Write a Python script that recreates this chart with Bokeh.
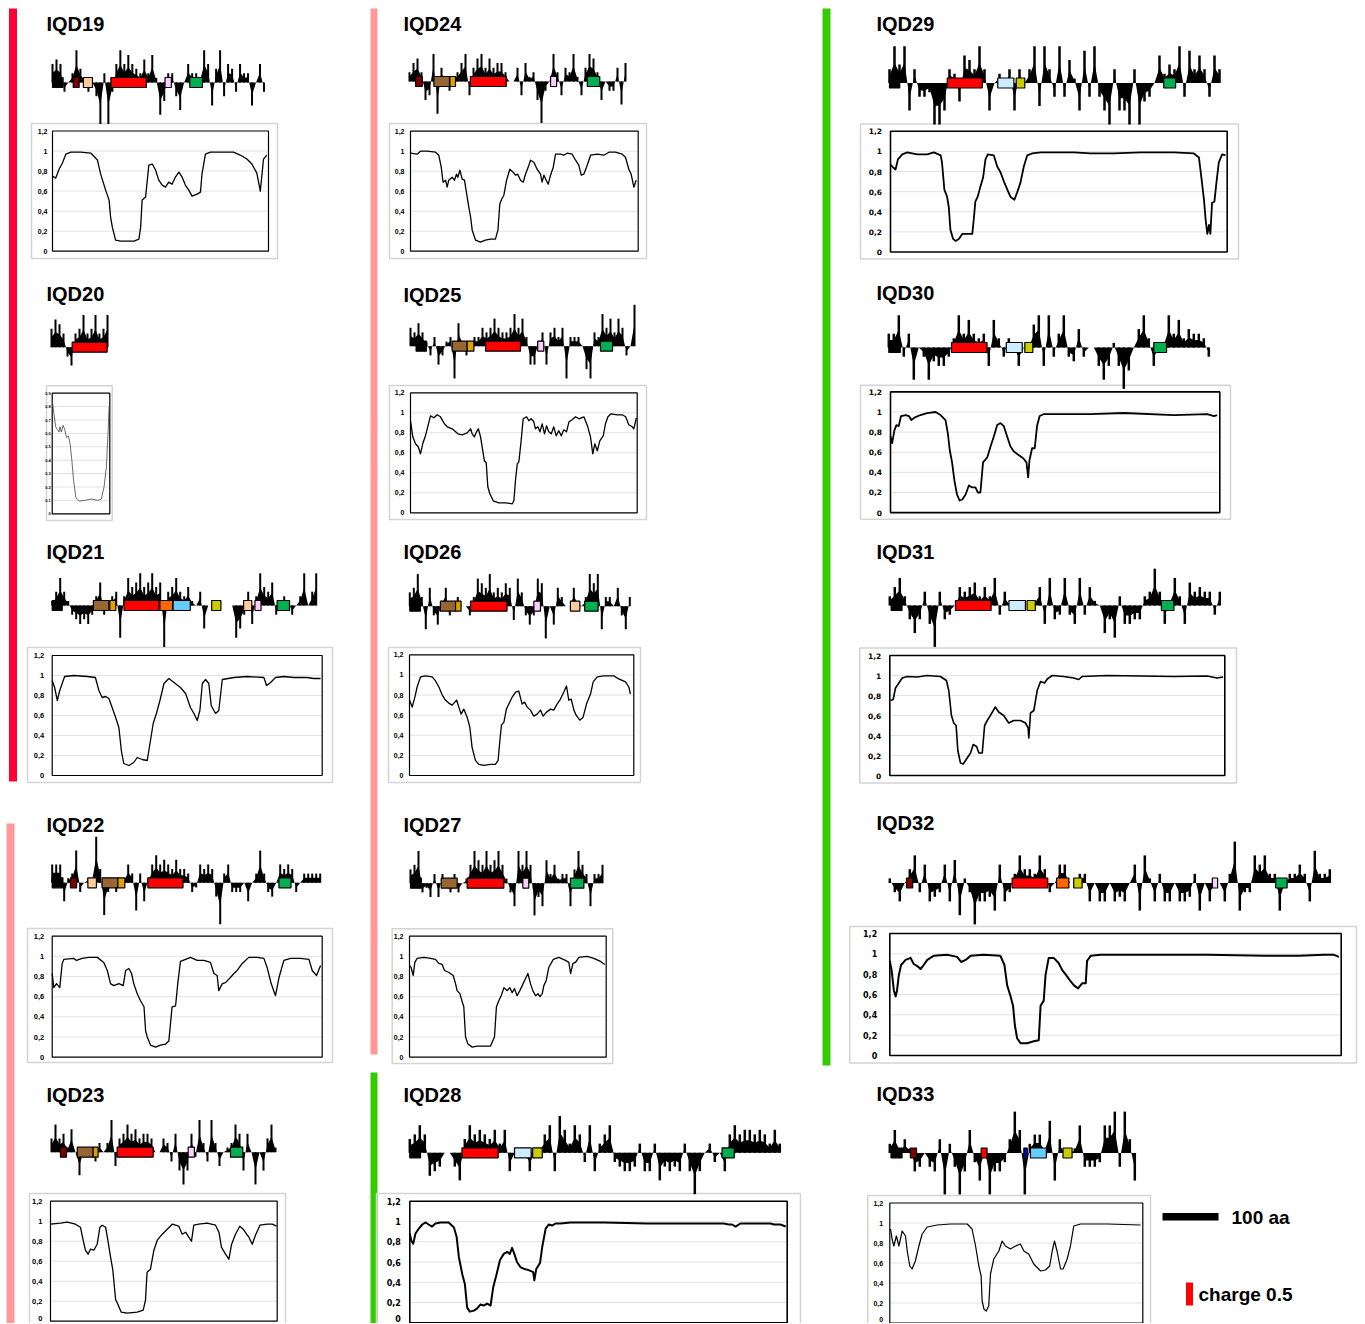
import numpy as np
from bokeh.plotting import figure
from bokeh.models import Range1d
from bokeh.embed import file_html
from bokeh.resources import INLINE
from bokeh.core.properties import value

# ---------------- DATA ----------------
# Net charge profiles, in tenths of a unit charge, sampled evenly along each protein
Q19 = [4,5,4,-2,0,2,7,3,1,-2,0,-3,-9,2,-9,-2,4,7,4,6,4,3,2,5,2,6,1,-7,-4,2,2,-3,-6,0,4,2,2,1,7,4,-5,3,7,-3,4,3,-2,4,2,2,-5,0,4,-2]
Q20 = [4,6,5,3,-2,-4,3,4,7,3,4,7,3,4,7]
Q21 = [1,3,6,3,1,-2,-3,-4,-3,-4,-2,2,5,-2,1,2,3,-7,2,6,4,5,7,4,5,7,4,5,-9,3,4,6,3,2,4,1,0,3,-5,0,0,0,0,0,0,0,-7,-5,-2,3,-4,2,7,4,3,5,-2,1,2,1,-2,0,2,7,0,3,7]
Q22 = [4,4,4,-4,1,2,7,-2,0,1,1,10,3,-7,-2,1,-2,0,1,4,2,-6,2,-4,1,4,6,4,5,4,3,5,3,3,2,-2,-1,4,3,4,3,-3,-9,2,4,-2,-2,-2,0,-4,0,2,7,2,-2,-3,0,4,3,4,3,-2,0,2,2,2,2,2]
Q23 = [3,6,3,4,1,5,0,-5,0,-1,0,-2,2,0,2,7,-3,3,4,6,4,5,3,4,4,3,0,0,3,2,-2,4,-4,-7,-4,4,-1,7,2,-2,7,2,-3,0,1,2,6,4,-4,4,0,-7,0,-4,3,6,1]
Q24 = [2,4,5,2,-4,-3,6,-7,3,1,-2,1,2,4,6,-3,3,5,6,3,5,3,4,4,2,0,0,3,-3,4,1,2,-4,-9,-2,0,6,2,-3,3,2,6,1,-3,3,6,5,2,-4,0,-2,-2,3,-5,4]
Q25 = [4,3,5,3,1,-2,2,-4,-2,1,2,-7,5,1,-2,1,2,2,4,3,4,6,4,3,3,4,7,4,6,2,-4,-4,1,3,-4,3,4,2,4,-7,2,2,2,0,-5,-7,3,2,7,4,6,3,6,4,-2,0,9]
Q26 = [3,4,7,2,-5,4,-2,-4,1,4,-2,1,2,0,0,-2,2,6,5,4,7,3,4,3,5,4,-3,6,3,-2,-4,-2,6,5,-7,0,-4,4,2,0,0,4,1,0,2,7,5,7,-5,2,2,0,4,-2,-5,2]
Q27 = [3,4,7,-2,-1,-3,2,-3,2,0,-2,2,-2,0,1,4,7,5,4,7,4,5,7,4,1,-2,-5,7,4,7,4,-7,-3,-5,5,2,4,1,2,2,-5,3,7,4,2,-5,2,2,4]
Q28 = [3,4,6,4,-5,-4,-3,0,0,-3,-6,3,6,4,5,4,3,5,2,5,-4,0,0,0,-4,0,1,4,6,-4,8,5,2,6,4,-2,6,-4,2,4,6,-2,-3,-4,-4,-3,2,-4,-4,2,-6,-3,-4,-3,-4,2,-4,-9,-4,0,2,-2,0,-4,4,6,4,5,5,4,5,4,2,5,2]
Q29 = [3,8,4,8,-6,3,-3,-3,-2,-9,-9,-6,3,2,-4,6,5,3,8,3,-6,0,2,0,3,-6,3,0,3,8,-5,8,3,-3,8,-3,5,1,-6,7,-3,8,-3,-6,-9,3,-6,-6,-9,3,-9,-4,-3,0,6,2,4,3,8,-3,7,3,6,3,-3,6,3]
Q30 = [3,3,7,-2,3,-7,0,-2,-7,-3,-4,-4,-2,2,7,3,6,3,2,3,-4,6,2,-2,2,0,-4,0,0,5,7,-4,7,-2,3,7,-2,-3,4,-2,0,0,-4,-7,-4,1,-4,-9,-5,0,4,7,2,-4,0,1,7,3,6,2,4,3,3,2,-2]
Q31 = [2,4,6,2,-3,-6,-3,3,-4,-9,3,-3,-2,0,4,3,4,5,2,4,2,6,-2,3,0,0,-1,0,0,1,4,-4,6,-3,-2,6,-2,-4,6,-2,4,1,0,-6,-3,-7,2,-4,-4,-3,-3,2,3,8,3,-4,1,6,2,-4,5,3,4,3,3,-2,3]
Q32 = [1,-2,-4,0,3,6,-2,4,-4,-3,-2,4,-4,5,-7,1,-2,-9,-4,-4,-3,-6,4,-4,-2,2,6,3,3,2,6,3,-2,0,4,4,0,0,2,2,-4,0,-4,-4,0,-4,-3,-4,0,4,-6,6,1,-4,2,-4,-4,0,-4,-4,-3,2,-6,0,-4,0,0,-4,2,9,-6,-2,-2,6,4,6,2,2,-6,0,2,2,4,2,-4,7,2,2,3]
Q33 = [2,5,1,3,1,-4,-3,0,-3,-4,3,-9,2,-3,-9,-4,5,-2,-6,1,-9,-4,-4,-2,3,9,5,-9,2,4,4,1,7,-6,3,0,0,1,6,-3,-3,-3,-2,6,6,9,-3,9,3,-6]

# Domains: (start %, end %, kind) along each protein
D19 = [(0,5,"K"),(9.8,12.6,"DR"),(14.6,18.9,"PE"),(27.6,44.4,"RD"),(53.2,56.2,"PK"),(64.9,70.9,"GR")]
D20 = [(36.9,99.4,"RD")]
D21 = [(0,3.8,"K"),(15.6,21.5,"BR"),(21.8,24.1,"GO"),(27.2,40.5,"RD"),(40.8,45.6,"OR"),(45.8,52.3,"LB"),(60.4,63.9,"OL"),(72.5,75.6,"PE"),(76.8,79.1,"PK"),(85.2,89.9,"GR")]
D22 = [(0,4,"K"),(6.8,9.1,"DR"),(13.3,16.5,"PE"),(18.6,24.5,"BR"),(24.5,27.1,"GO"),(35.7,48.8,"RD"),(84.6,89.1,"GR")]
D23 = [(4,6.7,"DR"),(11.5,18.6,"BR"),(18.6,20.8,"GO"),(29.3,45.4,"RD"),(61,63.8,"PK"),(79.9,85.4,"GR")]
D24 = [(2.8,5.9,"DR"),(11.3,18.5,"BR"),(18.7,21.3,"GO"),(28.2,44.8,"RD"),(65.3,68.1,"PK"),(82.3,88.1,"GR")]
D25 = [(2.5,7.1,"K"),(18.6,25.3,"BR"),(25.3,28.3,"GO"),(33.5,49.1,"RD"),(56.8,59.5,"PK"),(84.8,90.2,"GR")]
D26 = [(0,4.8,"K"),(13.9,20.8,"BR"),(20.8,23.3,"GO"),(27.6,44.2,"RD"),(56.4,59.4,"PK"),(73,77.3,"PE"),(79.5,85.6,"GR")]
D27 = [(0,5.7,"K"),(16,24.3,"BR"),(29.5,48.6,"RD"),(58.5,61.6,"PK"),(83.3,90.3,"GR")]
D28 = [(0,2.9,"K"),(14.1,23.9,"RD"),(28.3,32.8,"PB"),(33.2,35.8,"OL"),(84.4,87.7,"GR")]
D29 = [(0,3.1,"K"),(17.5,28.1,"RD"),(32.8,37.7,"PB"),(38.4,41.0,"OL"),(83.1,86.7,"GR")]
D30 = [(0,3.6,"K"),(19.6,30.7,"RD"),(36.7,41.7,"PB"),(42.5,45,"OL"),(82.8,86.8,"GR")]
D31 = [(0.4,3.7,"K"),(19.9,30.7,"RD"),(36.1,41.1,"PB"),(41.6,44.1,"OL"),(82.3,86.1,"GR")]
D32 = [(3.8,5.2,"DR"),(27.8,35.9,"RD"),(37.9,40.7,"OR"),(41.8,43.7,"OL"),(73.3,74.5,"PK"),(87.7,90.3,"GR")]
D33 = [(0.5,5,"K"),(8.4,10.9,"DR"),(37.3,39.7,"RD"),(54.7,56.1,"BL"),(57.4,63.9,"LB"),(70.7,74.4,"OL")]

# Disorder-type profiles: position (% of sequence) and score
X19 = [0,1.5,3.1,4.6,6.2,8.5,13.1,17.7,20.8,22.3,24.6,26.2,26.9,27.7,29.2,31.5,37.7,40,40.8,41.5,43.1,44.6,46.2,47.7,49.2,50.8,52.3,53.8,55.4,56.9,58.5,60,61.5,63.1,64.6,66.9,68.5,69.2,70.8,73.1,77.7,83.8,86.9,90,92.3,94.6,96.2,97.7,99.2]
Y19 = [.75,.73,.82,.88,.97,.99,.99,.98,.91,.77,.61,.51,.34,.24,.11,.10,.10,.12,.24,.51,.54,.86,.87,.81,.71,.66,.64,.69,.67,.74,.79,.74,.66,.61,.55,.57,.59,.77,.97,.99,.99,.99,.96,.92,.87,.78,.60,.92,.96]
X20 = [0,2.9,5.9,8.8,11.8,13.5,15.9,18.8,21.8,24.7,28.2,31.2,34.1,37.1,41.2,47.1,55.9,67.6,79.4,85.3,90,94.1,97.1,98.8]
Y20 = [.85,.75,.65,.63,.61,.65,.61,.66,.63,.57,.58,.52,.40,.25,.12,.095,.10,.11,.10,.11,.20,.35,.62,.80]
X21 = [0,.9,1.9,2.8,3.7,4.6,8,13,16,17.3,18.5,19.8,21,22.2,23.5,24.7,25.6,26.5,28.4,30.2,31.5,33.3,35.2,36.4,37.4,38.6,39.9,41.4,43.2,45.1,47.5,49.4,51.2,52.5,53.7,54.7,55.6,56.8,58,58.9,60.5,61.7,63,67.3,72.2,78.4,79.4,80.9,82.7,85.8,89.5,94.4,96.9,99.4]
Y21 = [.95,.88,.75,.85,.92,.99,1,.99,.98,.85,.78,.79,.77,.68,.58,.48,.25,.12,.10,.13,.18,.16,.15,.35,.52,.62,.75,.92,.97,.93,.88,.82,.68,.62,.55,.65,.92,.96,.92,.70,.62,.65,.96,.98,.99,.98,.90,.93,.98,.99,.98,.98,.97,.97]
X22 = [0,.6,1.6,2.8,3.7,4.3,8,9,11.1,13.6,16.7,19.1,20.4,21.6,22.8,24.7,26.3,27.2,28.4,29.4,30.2,31.5,32.7,34,34.6,35.2,36.4,38.3,40.1,42,43.2,44.4,45.7,46.5,47.5,49.4,51.2,53.7,56.2,58.6,59.9,61.1,61.7,63,64.2,66,67.3,68.5,70.4,72.8,75.9,78.4,79.6,81.1,82.7,84,85.8,88.3,92,95.1,96.3,97.9,99.4]
Y22 = [.83,.69,.73,.69,.93,.97,.98,.96,.98,.99,.99,.94,.86,.73,.71,.73,.71,.86,.88,.83,.73,.63,.56,.50,.26,.20,.12,.10,.12,.13,.16,.50,.51,.73,.95,.97,.99,.96,.96,.94,.83,.81,.66,.73,.74,.79,.83,.86,.93,.99,.99,.98,.89,.73,.61,.79,.96,.98,.98,.97,.86,.81,.91]
X23 = [0,4.4,7.4,11,13.2,14.4,15.4,16.6,17.6,19.1,20.6,21.8,22.8,24.3,25.3,26.5,27.5,28.7,29.7,31.2,33.8,38.2,40.9,41.9,42.6,44.1,45.6,47.1,49.3,51.5,53.7,56.6,58.1,59.6,61,62.2,63.2,65.4,69.1,72.8,74.3,75.4,77.2,78.7,79.9,81.6,83.5,85,86.5,87.5,89,90.4,92.4,95.6,97.8,99.7]
Y23 = [.97,.98,.99,.97,.94,.81,.71,.67,.72,.71,.77,.94,.96,.94,.81,.64,.51,.22,.17,.09,.08,.09,.11,.21,.49,.52,.71,.81,.87,.92,.97,.95,.87,.89,.84,.80,.96,.97,.98,.96,.89,.74,.67,.62,.77,.87,.95,.92,.87,.84,.77,.86,.96,.97,.97,.95]
X24 = [0,2.9,4.4,7.3,11,12.4,13.5,14.3,15.4,16.1,16.8,18.3,19.3,20.2,20.8,21.7,22.7,23.7,24.9,25.6,26.4,27.1,28.6,30.7,32.9,35.1,37.3,38.4,39.2,40,41,42.2,43.6,45.1,46.1,47.1,48.3,49.5,50.5,52,52.7,54.2,55.6,57.1,57.8,58.6,59.6,60.5,61.5,62.7,63.7,65.9,67.3,68.8,71,72.5,73.9,75,76.1,77.3,79.1,82,84.9,87.1,90,93,94.4,95.9,96.9,98.1,99.1]
Y24 = [.98,.97,1,1,.99,.96,.84,.69,.71,.64,.71,.74,.71,.77,.74,.81,.72,.71,.54,.44,.34,.21,.11,.09,.11,.12,.12,.21,.47,.52,.56,.71,.82,.79,.76,.77,.71,.69,.77,.86,.91,.89,.82,.77,.69,.76,.71,.67,.76,.84,.97,.97,.96,.98,.97,.91,.86,.76,.77,.84,.96,.97,.96,.99,.99,.97,.94,.82,.77,.64,.71]
X25 = [0,1,2.2,3.4,4.4,5.4,6.6,7.6,8.8,10.3,11.8,13.2,15,16.2,18.4,19.9,20.9,22.8,25,26.5,27.2,28.2,29.1,29.9,30.9,31.6,32.6,33.4,34.1,35,36.5,39,41.9,44.9,45.6,46.3,47.1,47.8,48.8,49.7,51.2,52.2,53.2,54.4,55.1,56.2,57.1,58.1,59.1,60,61,62.1,63.2,64.3,65.4,66.5,67.6,68.8,69.9,71.3,72.8,74.3,76.5,78.2,79.4,80.4,81.3,82.4,83.5,85,86,87.1,88.5,91.2,93.4,94.9,96.3,97.8,98.5,99.6]
Y25 = [.92,.76,.69,.66,.59,.69,.77,.86,.97,.95,.98,.96,.89,.86,.84,.81,.79,.78,.80,.84,.79,.76,.81,.84,.76,.66,.52,.50,.26,.19,.12,.10,.10,.09,.12,.32,.49,.51,.72,.94,.96,.92,.94,.91,.84,.86,.81,.89,.79,.87,.81,.79,.86,.77,.82,.77,.83,.81,.91,.93,.96,.94,.96,.86,.76,.59,.69,.62,.72,.77,.89,.96,.99,.98,.98,.96,.88,.86,.84,.95]
X26 = [0,1.2,2.4,3.4,4.9,7.1,10.1,11.6,13.1,14.6,16,17.5,19,21,22,23,24.2,25.7,26.9,27.9,29.4,30.9,33.1,36.1,38.3,39.5,40.3,41,42.1,43.2,44.3,45.8,47.3,48.7,50.2,51.3,52.5,53.9,55.4,56.9,58.4,59.6,61.1,62.9,64.3,65.8,67.3,68.8,70,71,72.1,73.3,74.3,75.9,77.4,78.9,80.7,81.9,83.7,86.6,91.1,93.3,96.3,97.8,98.5]
Y26 = [.75,.68,.78,.88,.98,.99,.98,.94,.88,.80,.75,.72,.70,.75,.68,.61,.66,.58,.48,.28,.15,.11,.10,.11,.11,.15,.35,.50,.53,.66,.71,.78,.83,.84,.71,.73,.68,.65,.59,.61,.65,.59,.63,.66,.65,.71,.76,.83,.89,.75,.76,.65,.60,.55,.58,.71,.81,.93,.98,.99,.99,.96,.93,.88,.81]
X27 = [0,.8,1.9,2.7,3.9,7.3,10.7,13.2,14.9,16.6,17.8,20,22.2,23.4,24.2,25.6,26.8,27.6,28.5,29.7,31.9,34.4,37.8,41.2,43.2,44.2,45.4,46.6,48,49.7,51,52.2,53.4,54.7,56.1,57.3,59,60.2,61.5,62.7,64.1,65.3,66.3,67.5,68.3,69.5,70.8,73.1,75.9,79.3,81,81.9,83.1,84.4,86.1,90.3,93.7,97.1,99.3]
Y27 = [.91,.89,.81,.94,.98,.99,.98,.97,.93,.92,.86,.84,.81,.73,.66,.63,.55,.50,.20,.13,.10,.11,.11,.11,.20,.50,.56,.61,.69,.66,.69,.64,.68,.61,.66,.71,.78,.83,.73,.66,.61,.63,.60,.63,.71,.76,.89,.97,.99,.96,.94,.83,.93,.94,.99,1,.98,.95,.92]
X28 = [0,.4,.9,1.5,2.4,3.3,4.2,5,5.9,6.8,8.1,10.3,11.7,12.4,13,13.9,14.6,15.2,15.9,17,17.8,18.7,19.6,20.5,21.4,22.1,23,23.9,24.9,25.8,26.5,27.1,27.7,28.4,29.3,30.4,31.5,32.7,33,33.5,34.5,35.1,36,36.8,37.7,38.6,39.9,42.6,51.4,62.9,73.5,83.2,84.5,85.4,86.3,87.6,91.2,95.6,96.5,98.2,99.6]
Y28 = [.88,.81,.78,.88,.93,.97,.99,.97,.95,.98,.99,.99,.94,.85,.65,.48,.38,.15,.11,.12,.14,.18,.17,.19,.17,.35,.48,.62,.68,.70,.68,.74,.68,.60,.55,.53,.52,.50,.42,.53,.59,.75,.93,.97,.96,.98,.98,.99,.99,.98,.98,.98,.97,.97,.95,.98,.98,.98,.97,.97,.95]
X29 = [0,.8,1.5,2.2,3.5,5,7.9,10.9,12.9,14.9,15.3,16,16.8,17.3,17.8,18.6,19.3,20.3,21.3,22.3,23.3,24.3,24.8,25.2,25.9,26.7,27.5,28.2,28.9,30.7,31.7,32.7,33.7,34.7,35.6,36.8,37.6,38.6,39.6,40.6,42.1,44.6,54.5,59.4,66.3,74.3,84.2,90.1,91.6,92.3,93.1,93.6,94.1,94.6,95,95.5,96.2,96.8,97.5,98.5,99.5]
Y29 = [.87,.84,.82,.92,.97,.99,.97,.97,.99,.96,.89,.62,.55,.45,.22,.13,.11,.13,.18,.18,.18,.18,.35,.50,.55,.65,.74,.92,.97,.96,.85,.79,.70,.62,.55,.52,.59,.69,.85,.96,.98,.99,.99,.98,.98,.99,.99,.98,.94,.75,.52,.32,.18,.27,.18,.49,.50,.69,.89,.97,.96]
X30 = [0,.5,1.2,1.8,2.5,3.2,4.6,5.6,6.3,7.6,9.1,11.1,13.7,15.2,16.7,17.4,18,18.7,19.4,20.2,21,21.8,22.8,23.8,24.8,25.8,26.5,27.3,28.1,29.4,30.4,31.4,32.4,33.4,34.4,35.4,36.4,37.4,39,40.3,41.3,41.8,42.2,43,43.8,44.5,45.3,46.6,50.6,60.7,70.9,86,96.2,98.2,99.2]
Y30 = [.76,.69,.82,.87,.86,.96,.97,.96,.92,.95,.97,.99,1,.97,.92,.79,.62,.50,.32,.18,.12,.13,.18,.27,.25,.25,.20,.20,.50,.55,.66,.76,.87,.89,.86,.76,.66,.61,.57,.54,.50,.35,.52,.64,.64,.86,.96,.98,.98,.98,.99,.97,.98,.96,.97]
X31 = [.2,1,1.7,2.7,3.7,5.2,8.2,11.1,15.1,16.9,17.6,18.4,19.1,19.8,20.3,21.1,21.9,22.9,24.1,24.9,25.9,26.6,27.6,28.3,29.1,30.2,31.5,32.5,34,35.5,37,39,40.5,41.3,41.5,42,43,44,45,46.2,47,48.5,51.9,54.9,56.4,57.4,64.9,74.8,84.8,94.7,97.7,99.5]
Y31 = [.75,.76,.875,.925,.975,.99,.985,1,.99,.95,.85,.60,.525,.50,.25,.125,.115,.165,.225,.31,.29,.225,.225,.50,.55,.61,.685,.635,.60,.525,.55,.55,.525,.475,.375,.625,.65,.85,.94,.925,.965,1,.99,.975,.96,.99,1,.995,.99,.995,.975,.985]
X32 = [0,.4,.9,1.3,1.6,2,2.5,3.5,4.6,5.3,6.1,6.8,7.5,8.3,9.7,12.7,14.9,15.8,16.8,17.9,20.8,24.5,25.4,26,26.7,27.3,27.7,28.2,29,30.4,31.9,33,33.4,34.1,34.5,35.2,36.3,37.4,38.2,38.9,39.9,40.8,41.7,42.6,43.4,43.7,44.5,46.7,55.5,70.3,83.2,88.8,90.6,96.2,98.4,99.5]
Y32 = [.93,.84,.64,.58,.64,.79,.89,.94,.96,.90,.88,.85,.89,.94,.98,.99,.97,.92,.94,.98,.99,.98,.89,.69,.59,.49,.30,.17,.12,.12,.14,.15,.49,.54,.79,.96,.96,.91,.84,.80,.74,.69,.66,.71,.71,.93,.98,.99,.99,.99,.98,.98,.98,.99,.99,.97]
X33 = [.3,.9,1.6,2.6,3.6,4.9,6.2,6.9,7.9,8.8,10.1,11.5,12.8,14.8,18.7,24,30.6,32.5,33.9,35.2,36.1,36.5,37.2,38.1,39.1,39.8,41.1,43.1,44.4,45.7,47.7,49.7,51.6,53,54.9,56.9,59.6,61.5,63.2,64.2,65.1,66.1,67.5,68.5,70.1,71.4,72.7,75.4,85.9,99.1]
Y33 = [.94,.84,.77,.87,.77,.92,.87,.72,.57,.54,.62,.77,.89,.96,.98,.99,.99,.94,.77,.57,.47,.22,.14,.12,.17,.49,.64,.72,.82,.77,.74,.77,.79,.72,.69,.59,.52,.53,.57,.72,.82,.72,.54,.54,.64,.77,.97,.99,.99,.98]

NAMES = ["IQD19","IQD20","IQD21","IQD22","IQD23","IQD24","IQD25","IQD26",
         "IQD27","IQD28","IQD29","IQD30","IQD31","IQD32","IQD33"]
CHARGES = [Q19,Q20,Q21,Q22,Q23,Q24,Q25,Q26,Q27,Q28,Q29,Q30,Q31,Q32,Q33]
DOMAINS = [D19,D20,D21,D22,D23,D24,D25,D26,D27,D28,D29,D30,D31,D32,D33]
LINES_X = [X19,X20,X21,X22,X23,X24,X25,X26,X27,X28,X29,X30,X31,X32,X33]
LINES_Y = [Y19,Y20,Y21,Y22,Y23,Y24,Y25,Y26,Y27,Y28,Y29,Y30,Y31,Y32,Y33]

SCALE_LABEL = "100 aa"
CHARGE_LABEL = "charge 0.5"
LEGEND_CHARGE = 5      # tenths of charge shown by the legend bar
TICKS_12 = ["0", "0,2", "0,4", "0,6", "0,8", "1", "1,2"]
TICKS_09 = ["0", "0,1", "0,2", "0,3", "0,4", "0,5", "0,6", "0,7", "0,8", "0,9"]

# ---------------- STYLE / LAYOUT ----------------
DOMAIN_COLORS = {"K": "#000000", "DR": "#7F0000", "PE": "#FFCC99", "RD": "#FF0000",
                 "PK": "#FFCCFF", "GR": "#00B050", "BR": "#996633", "GO": "#E0A000",
                 "OR": "#FF6600", "LB": "#66CCFF", "OL": "#CCCC00", "PB": "#CCECFF",
                 "BL": "#0000CC"}
PX_PER_TENTH = 4.6
MASS = 0.55           # relative height of the smoothed profile body under the spikes
FONT = "Liberation Sans"
W, H = 1364, 1323

# t: title pos, c: charge x0,x1,baseline, o: outer box, i: plot area  (page pixels)
LAYOUT = {
    "IQD19": dict(t=(46, 23), c=(52, 263.5, 82), o=(31, 123, 277, 258), i=(52, 130.5, 268, 250.7), lo=5, fs=7, lw=1.3),
    "IQD20": dict(t=(46, 293), c=(51, 107, 346.7), o=(46, 385.3, 111.7, 520), i=(51.7, 392.7, 109.3, 513.3), lo=1.5, fs=4, lw=0.8, ymax=0.9, step=0.1),
    "IQD21": dict(t=(46, 551.5), c=(51.7, 315.7, 605), o=(27, 647, 332, 782), i=(51.7, 655, 321.7, 775), lo=8, fs=7.5, lw=1.3),
    "IQD22": dict(t=(46, 824.5), c=(51.7, 319.7, 882.3), o=(27, 928, 332, 1062), i=(51.7, 935.7, 321.7, 1056.7), lo=8, fs=7.5, lw=1.3),
    "IQD23": dict(t=(46, 1094.5), c=(51, 275, 1151.7), o=(29, 1193, 285, 1330), i=(50, 1200.7, 276.7, 1320.7), lo=8, fs=7.5, lw=1.3),
    "IQD24": dict(t=(403, 23), c=(409, 625, 81), o=(389, 123, 646, 258), i=(410, 130.7, 637.7, 250.7), lo=6, fs=7, lw=1.3),
    "IQD25": dict(t=(403, 294), c=(410, 634, 345.7), o=(389, 385, 646, 519), i=(410, 392.3, 636.7, 512.3), lo=6, fs=7, lw=1.3),
    "IQD26": dict(t=(403, 551.5), c=(409.3, 629.3, 605.7), o=(388, 647, 640, 782), i=(409, 654.3, 633.3, 775), lo=6, fs=7, lw=1.3),
    "IQD27": dict(t=(403, 824.5), c=(410, 602, 882.7), o=(391.7, 928.3, 612.3, 1063), i=(409, 935.7, 605.7, 1056.7), lo=6, fs=7, lw=1.3),
    "IQD28": dict(t=(403, 1094.5), c=(409.3, 779.3, 1152.3), o=(376, 1193, 800, 1330), i=(409.3, 1200.7, 786.7, 1322.3), lo=9, fs=8, lw=2.0, wide=True),
    "IQD29": dict(t=(876, 23), c=(889, 1219, 82.5), o=(860, 123.4, 1238, 258.6), i=(890, 130.8, 1226.7, 251.5), lo=8.5, fs=7.5, lw=1.8, wide=True),
    "IQD30": dict(t=(876, 292.5), c=(888.3, 1208.3, 347), o=(860, 384.7, 1230, 518.8), i=(890, 391.4, 1219.3, 512.1), lo=8.5, fs=7.5, lw=1.8, wide=True),
    "IQD31": dict(t=(876, 551), c=(889.3, 1219.3, 605), o=(859.3, 647.5, 1236, 782.5), i=(889.3, 655, 1224.3, 775), lo=8.5, fs=7.5, lw=1.6, wide=True),
    "IQD32": dict(t=(876, 822.5), c=(889.3, 1329.3, 882.5), o=(849.3, 926, 1356, 1062.5), i=(889.3, 933, 1340.7, 1055), lo=12.6, fs=8, lw=2.0, wide=True),
    "IQD33": dict(t=(876, 1093.5), c=(889.3, 1134.3, 1152.5), o=(867.3, 1195, 1150, 1330), i=(889.3, 1202.5, 1142.3, 1322.5), lo=6.6, fs=7, lw=1.2),
}
GROUP_BARS = [(8.5, 16.5, 8, 781, "#FF0033"), (6, 14, 823, 1330, "#FF9999"),
              (370, 377, 8, 1054, "#FF9999"), (370, 377, 1072, 1330, "#33CC00"),
              (822, 830, 8, 1065, "#33CC00")]

p = figure(width=W, height=H, x_range=Range1d(0, W), y_range=Range1d(H, 0),
           output_backend="svg", toolbar_location=None, x_axis_location=None,
           y_axis_location=None, min_border=0)
p.grid.visible = False
p.outline_line_color = None
p.background_fill_color = "white"
p.border_fill_color = "white"

for (x0, x1, y0, y1, col) in GROUP_BARS:
    p.quad(left=x0, right=x1, top=y0, bottom=y1, fill_color=col, line_color=None)

for name, q, dom, lx, ly in zip(NAMES, CHARGES, DOMAINS, LINES_X, LINES_Y):
    L = LAYOUT[name]
    ymax = L.get("ymax", 1.2)
    step = L.get("step", 0.2)
    ticks = TICKS_09 if ymax < 1 else TICKS_12
    ox0, oy0, ox1, oy1 = L["o"]
    ix0, iy0, ix1, iy1 = L["i"]
    # outer frame
    p.quad(left=ox0, right=ox1, top=oy0, bottom=oy1, fill_color=None,
           line_color="#D4D4D4", line_width=1.5)
    # grid
    nt = int(round(ymax / step))
    ty = [iy1 - (k * step / ymax) * (iy1 - iy0) for k in range(nt + 1)]
    p.segment(x0=[ix0] * (nt - 1), x1=[ix1] * (nt - 1), y0=ty[1:-1], y1=ty[1:-1],
              line_color="#E2E2E2", line_width=1)
    # plot-area box
    bw = 1.6 if L.get("wide") else 1.2
    p.quad(left=ix0, right=ix1, top=iy0, bottom=iy1, fill_color=None,
           line_color="black", line_width=bw)
    # profile line
    xs = ix0 + np.array(lx) / 100.0 * (ix1 - ix0)
    ys = iy1 - np.array(ly) / ymax * (iy1 - iy0)
    p.line(xs, ys, line_color="black" if ymax > 1 else "#444444",
           line_width=L["lw"], line_join="round")
    # tick labels (kept just inside the bottom edge of the page)
    fs = L["fs"]
    tly = [min(t, H - fs / 2 - 1) for t in ty]
    p.text(x=[ix0 - L["lo"]] * len(ty), y=tly, text=ticks[:len(ty)],
           text_font=value("DejaVu Sans" if L.get("wide") else FONT),
           text_font_style="bold", text_font_size=f"{fs}px",
           text_align="right", text_baseline="middle", text_color="black")
    # title
    tx, tyy = L["t"]
    p.text(x=[tx], y=[tyy], text=[name], text_font=value(FONT), text_font_style="bold",
           text_font_size="20px", text_align="left", text_baseline="middle",
           text_color="black")
    # charge profile: filled body plus thin spikes
    cx0, cx1, cy = L["c"]
    n = len(q)
    qx = np.linspace(cx0, cx1, n)
    dx = (cx1 - cx0) / (n - 1)
    qv = np.array(q, dtype=float) * PX_PER_TENTH
    p.varea(x=qx, y1=np.full(n, cy), y2=cy - MASS * qv, fill_color="black")
    p.vbar(x=qx, width=dx * 0.5, top=cy - qv, bottom=cy, fill_color="black", line_color=None)
    # domains
    lefts = [cx0 + s / 100.0 * (cx1 - cx0) for s, e, k in dom]
    rights = [cx0 + e / 100.0 * (cx1 - cx0) for s, e, k in dom]
    cols = [DOMAIN_COLORS[k] for s, e, k in dom]
    p.quad(left=lefts, right=rights, top=[cy - 5] * len(dom), bottom=[cy + 5] * len(dom),
           fill_color=cols, line_color="black", line_width=1.2)

# legend: scale bar and charge bar
p.quad(left=1162, right=1218, top=1212.5, bottom=1220, fill_color="black", line_color=None)
p.text(x=[1231], y=[1216.5], text=[SCALE_LABEL], text_font=value(FONT), text_font_style="bold",
       text_font_size="19px", text_align="left", text_baseline="middle", text_color="black")
p.quad(left=1185.5, right=1192.5, top=1293.5 - LEGEND_CHARGE * PX_PER_TENTH / 2,
       bottom=1293.5 + LEGEND_CHARGE * PX_PER_TENTH / 2, fill_color="#FF0000", line_color=None)
p.text(x=[1198], y=[1294], text=[CHARGE_LABEL], text_font=value(FONT), text_font_style="bold",
       text_font_size="19px", text_align="left", text_baseline="middle", text_color="black")

open("out.html", "w").write(file_html(p, INLINE))
